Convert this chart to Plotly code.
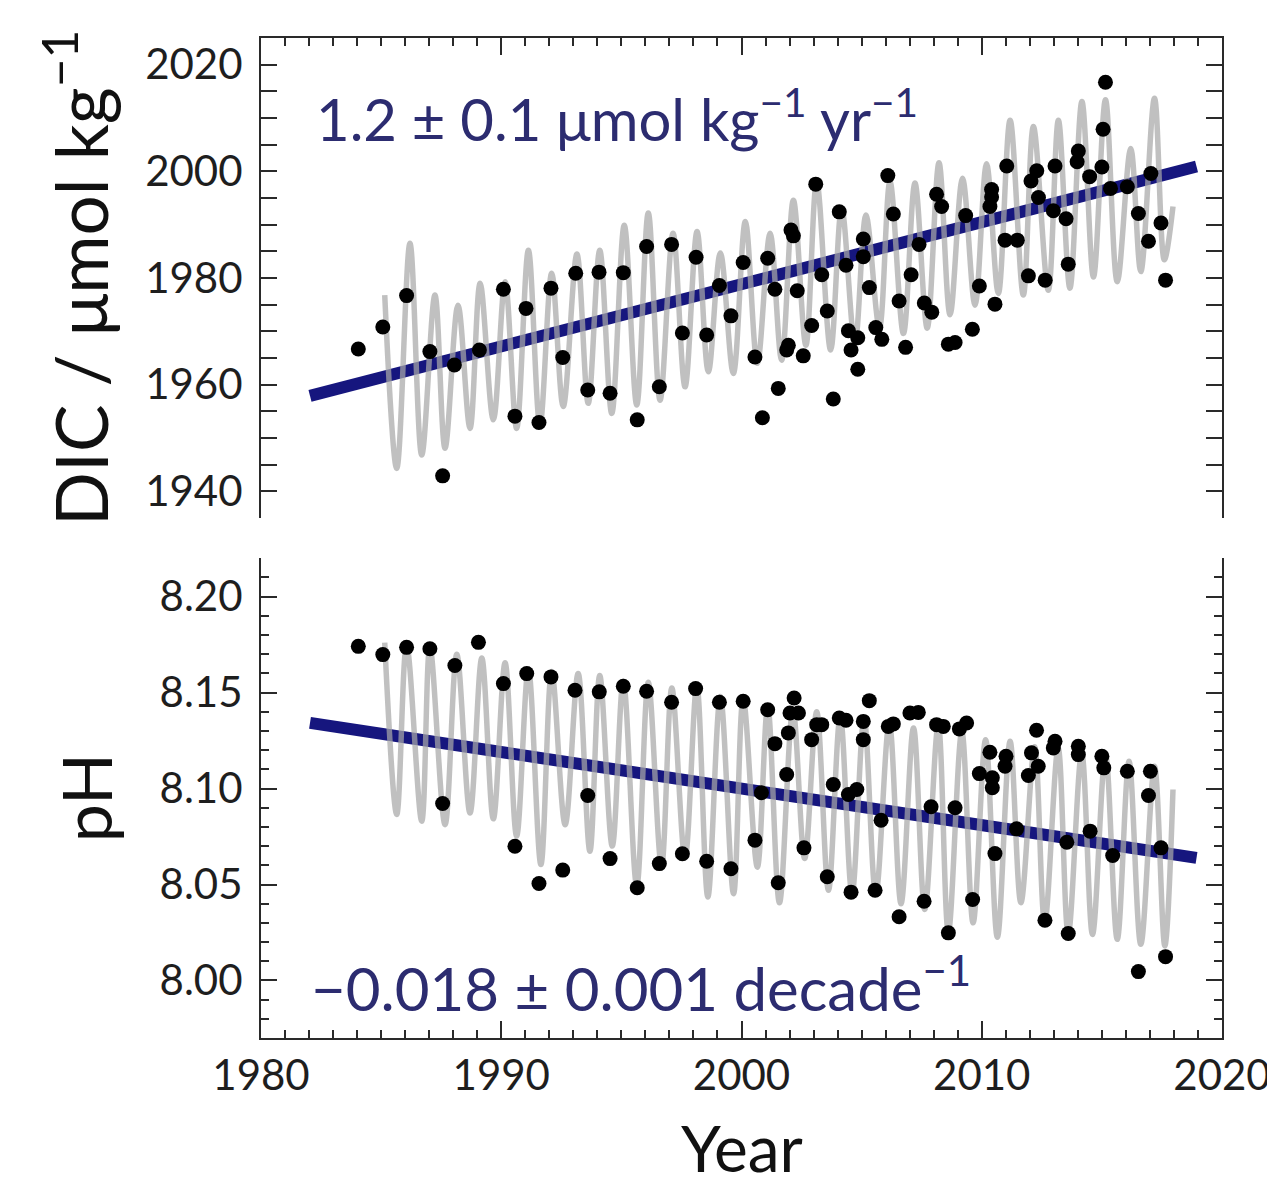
import plotly.graph_objects as go
from plotly.subplots import make_subplots

# ---------------- DIC panel data ----------------
dic_year = [1984.05, 1985.07, 1986.06, 1987.03, 1987.56, 1988.05, 1989.09, 1990.09, 1990.57, 1991.03,
            1991.57, 1992.07, 1992.56, 1993.10, 1993.60, 1994.07, 1994.53, 1995.08, 1995.66, 1996.05,
            1996.58, 1997.09, 1997.54, 1998.11, 1998.55, 1999.08, 1999.56, 2000.07, 2000.56, 2000.87,
            2001.09, 2001.39, 2001.53, 2001.88, 2001.95, 2002.06, 2002.16, 2002.32, 2002.57, 2002.92,
            2003.09, 2003.34, 2003.57, 2003.82, 2004.07, 2004.35, 2004.45, 2004.56, 2004.84, 2004.84,
            2005.07, 2005.07, 2005.32, 2005.59, 2005.84, 2006.09, 2006.32, 2006.56, 2006.83, 2007.06,
            2007.39, 2007.61, 2007.92, 2008.12, 2008.33, 2008.61, 2008.89, 2009.33, 2009.61, 2009.90,
            2010.34, 2010.41, 2010.41, 2010.55, 2010.97, 2011.04, 2011.48, 2011.94, 2012.05, 2012.29,
            2012.36, 2012.64, 2012.98, 2013.05, 2013.51, 2013.60, 2013.97, 2014.02, 2014.49, 2015.00,
            2015.05, 2015.15, 2015.36, 2016.06, 2016.52, 2016.94, 2017.04, 2017.46, 2017.65]
dic_value = [1966.7, 1970.8, 1976.7, 1966.2, 1942.9, 1963.7, 1966.5, 1977.9, 1954.1, 1974.3,
             1952.9, 1978.1, 1965.1, 1980.9, 1959.0, 1981.1, 1958.4, 1981.0, 1953.4, 1985.9,
             1959.6, 1986.3, 1969.7, 1983.9, 1969.3, 1978.6, 1972.9, 1982.9, 1965.2, 1953.8,
             1983.7, 1977.9, 1959.3, 1966.5, 1967.4, 1989.0, 1987.9, 1977.6, 1965.4, 1971.1,
             1997.6, 1980.6, 1973.8, 1957.3, 1992.4, 1982.4, 1970.1, 1966.5, 1968.8, 1962.9,
             1987.3, 1984.0, 1978.2, 1970.7, 1968.5, 1999.2, 1992.0, 1975.7, 1967.0, 1980.6,
             1986.3, 1975.3, 1973.6, 1995.7, 1993.4, 1967.6, 1967.9, 1991.7, 1970.4, 1978.5,
             1993.4, 1995.2, 1996.6, 1975.1, 1987.1, 2001.0, 1987.1, 1980.4, 1998.2, 2000.1,
             1995.1, 1979.6, 1992.6, 2001.0, 1991.1, 1982.6, 2001.8, 2003.8, 1999.0, 2000.8,
             2007.9, 2016.7, 1996.8, 1997.1, 1992.1, 1986.9, 1999.6, 1990.3, 1979.6]

# seasonal fit: extremes (peaks / troughs)
dic_fit_year = [1985.15, 1985.65, 1986.20, 1986.69, 1987.24, 1987.66, 1988.20, 1988.70, 1989.12, 1989.67,
                1990.16, 1990.64, 1991.13, 1991.61, 1992.10, 1992.58, 1993.15, 1993.62, 1994.10, 1994.60,
                1995.12, 1995.64, 1996.12, 1996.61, 1997.15, 1997.65, 1998.15, 1998.62, 1999.12, 1999.66,
                2000.16, 2000.66, 2001.19, 2001.67, 2002.16, 2002.68, 2003.13, 2003.71, 2004.17, 2004.72,
                2005.18, 2005.74, 2006.18, 2006.74, 2007.22, 2007.73, 2008.22, 2008.68, 2009.20, 2009.72,
                2010.20, 2010.69, 2011.18, 2011.73, 2012.15, 2012.77, 2013.19, 2013.67, 2014.17, 2014.65,
                2015.15, 2015.64, 2016.20, 2016.62, 2017.19, 2017.60, 2017.96]
dic_fit_value = [1976.8, 1944.3, 1986.5, 1946.8, 1976.8, 1948.1, 1974.9, 1951.8, 1979.0, 1953.4,
                 1979.3, 1951.8, 1985.2, 1952.4, 1980.9, 1955.9, 1984.5, 1956.5, 1985.2, 1954.6,
                 1989.9, 1956.2, 1992.2, 1957.1, 1988.4, 1959.6, 1988.7, 1962.4, 1984.7, 1962.1,
                 1990.6, 1964.0, 1988.4, 1964.6, 1994.6, 1967.4, 1998.1, 1966.5, 1993.1, 1967.8,
                 1991.8, 1970.6, 1998.1, 1969.6, 1997.8, 1970.6, 2001.6, 1973.1, 1998.7, 1974.9,
                 2001.4, 1977.1, 2009.6, 1976.8, 2008.4, 1977.7, 2009.6, 1978.1, 2013.1, 1980.2,
                 2013.4, 1979.3, 2004.3, 1981.2, 2013.7, 1983.4, 1993.4]

dic_trend_year = [1982.04, 2018.94]
dic_trend_value = [1957.9, 2000.9]

# ---------------- pH panel data ----------------
ph_year = [1984.05, 1985.07, 1986.06, 1987.03, 1987.56, 1988.07, 1989.05, 1990.09, 1990.57, 1991.06,
           1991.57, 1992.07, 1992.56, 1993.07, 1993.60, 1994.08, 1994.53, 1995.08, 1995.66, 1996.05,
           1996.58, 1997.09, 1997.54, 1998.09, 1998.55, 1999.08, 1999.56, 2000.07, 2000.56, 2000.83,
           2001.09, 2001.39, 2001.53, 2001.88, 2001.95, 2002.02, 2002.19, 2002.37, 2002.60, 2002.92,
           2003.13, 2003.34, 2003.57, 2003.82, 2004.07, 2004.35, 2004.45, 2004.56, 2004.80, 2005.07,
           2005.07, 2005.32, 2005.56, 2005.81, 2006.11, 2006.32, 2006.56, 2007.01, 2007.36, 2007.60,
           2007.89, 2008.12, 2008.40, 2008.61, 2008.89, 2009.07, 2009.37, 2009.62, 2009.90, 2010.34,
           2010.44, 2010.44, 2010.55, 2011.01, 2010.97, 2011.45, 2011.94, 2012.07, 2012.35, 2012.28,
           2012.63, 2012.98, 2013.05, 2013.54, 2013.60, 2014.02, 2014.02, 2014.51, 2015.00, 2015.08,
           2015.45, 2016.06, 2016.52, 2016.94, 2017.02, 2017.46, 2017.65]
ph_value = [8.1741, 8.1698, 8.1736, 8.1729, 8.0922, 8.1641, 8.1762, 8.1547, 8.0699, 8.1599,
            8.0505, 8.1582, 8.0575, 8.1512, 8.0964, 8.1504, 8.0635, 8.1533, 8.0483, 8.1507,
            8.0609, 8.1450, 8.0660, 8.1521, 8.0621, 8.1450, 8.0582, 8.1455, 8.0731, 8.0978,
            8.1411, 8.1234, 8.0509, 8.1073, 8.1290, 8.1394, 8.1472, 8.1394, 8.0691, 8.1255,
            8.1333, 8.1333, 8.0540, 8.1021, 8.1368, 8.1356, 8.0969, 8.0460, 8.0995, 8.1350,
            8.1255, 8.1458, 8.0470, 8.0835, 8.1324, 8.1337, 8.0332, 8.1394, 8.1397, 8.0413,
            8.0905, 8.1333, 8.1324, 8.0248, 8.0900, 8.1311, 8.1342, 8.0422, 8.1078, 8.1189,
            8.1056, 8.1004, 8.0661, 8.1168, 8.1116, 8.0790, 8.1068, 8.1186, 8.1116, 8.1304,
            8.0314, 8.1212, 8.1246, 8.0720, 8.0245, 8.1220, 8.1177, 8.0778, 8.1168, 8.1108,
            8.0651, 8.1090, 8.0046, 8.0964, 8.1090, 8.0691, 8.0124]

ph_fit_year = [1985.15, 1985.65, 1986.06, 1986.69, 1987.03, 1987.66, 1988.15, 1988.70, 1989.19, 1989.67,
               1990.16, 1990.64, 1991.13, 1991.65, 1992.10, 1992.66, 1993.20, 1993.69, 1994.10, 1994.62,
               1995.08, 1995.64, 1996.12, 1996.67, 1997.10, 1997.65, 1998.14, 1998.60, 1999.12, 1999.67,
               2000.07, 2000.66, 2001.09, 2001.58, 2002.14, 2002.63, 2003.13, 2003.62, 2004.11, 2004.60,
               2005.10, 2005.59, 2006.15, 2006.64, 2007.16, 2007.63, 2008.19, 2008.61, 2009.17, 2009.64,
               2010.16, 2010.65, 2011.18, 2011.63, 2012.20, 2012.62, 2013.18, 2013.60, 2014.16, 2014.61,
               2015.15, 2015.64, 2016.13, 2016.62, 2017.19, 2017.62, 2017.96]
ph_fit_value = [8.176, 8.0865, 8.175, 8.083, 8.174, 8.0812, 8.170, 8.0873, 8.168, 8.0842,
                8.1655, 8.0752, 8.1623, 8.0604, 8.161, 8.0812, 8.160, 8.0673, 8.1589, 8.070,
                8.1559, 8.0491, 8.1554, 8.0595, 8.1524, 8.0639, 8.1536, 8.0435, 8.148, 8.0452,
                8.147, 8.059, 8.1429, 8.0405, 8.1411, 8.0635, 8.1400, 8.047, 8.1377, 8.045,
                8.1368, 8.0448, 8.1342, 8.040, 8.1316, 8.037, 8.1335, 8.025, 8.1298, 8.030,
                8.1255, 8.0225, 8.1246, 8.0405, 8.1218, 8.030, 8.1212, 8.024, 8.1186, 8.024,
                8.1177, 8.0214, 8.1142, 8.0188, 8.1116, 8.018, 8.0995]

ph_trend_year = [1982.04, 2018.94]
ph_trend_value = [8.1342, 8.0639]

x_tick_vals = [1980, 1990, 2000, 2010, 2020]
dic_tick_vals = [1940, 1960, 1980, 2000, 2020]
ph_tick_vals = [8.00, 8.05, 8.10, 8.15, 8.20]

# ---------------- figure ----------------
NAVY = "#16167e"
TXT = "#2c2c70"
FIT = "rgba(168,168,168,0.72)"
FONT = "Lato, 'Liberation Sans', sans-serif"

fig = make_subplots(rows=2, cols=1, shared_xaxes=False, vertical_spacing=0.0)

for row, (ty, tv, fy, fv, py, pv) in enumerate([
        (dic_trend_year, dic_trend_value, dic_fit_year, dic_fit_value, dic_year, dic_value),
        (ph_trend_year, ph_trend_value, ph_fit_year, ph_fit_value, ph_year, ph_value)], start=1):
    fig.add_trace(go.Scatter(x=ty, y=tv, mode="lines",
                             line=dict(color=NAVY, width=12), showlegend=False), row=row, col=1)
    fig.add_trace(go.Scatter(x=fy, y=fv, mode="lines",
                             line=dict(color=FIT, width=5.5, shape="spline", smoothing=1.0),
                             showlegend=False), row=row, col=1)
    fig.add_trace(go.Scatter(x=py, y=pv, mode="markers",
                             marker=dict(color="black", size=15), showlegend=False), row=row, col=1)

axis_common = dict(showline=True, linecolor="#2a2a2a", linewidth=2, ticks="inside",
                   tickcolor="#2a2a2a", tickwidth=2, showgrid=False, zeroline=False,
                   automargin=False,
                   tickfont=dict(family=FONT, size=42, color="#1e1e1e"))

fig.update_xaxes(range=[1980, 2020], tickvals=x_tick_vals, ticklen=17, ticklabeloverflow="allow",
                 minor=dict(dtick=1, tick0=1980, ticklen=8, ticks="inside", tickcolor="#2a2a2a",
                            tickwidth=2, showgrid=False),
                 **axis_common)
fig.update_xaxes(side="top", showticklabels=False, row=1, col=1)
fig.update_xaxes(side="bottom", showticklabels=True, ticklabelstandoff=0, row=2, col=1)

fig.update_yaxes(**axis_common)
fig.update_yaxes(range=[1935, 2025], tickvals=dic_tick_vals, ticklen=16, mirror="ticks",
                 ticklabelstandoff=8,
                 minor=dict(dtick=5, tick0=1935, ticklen=16, ticks="inside", tickcolor="#2a2a2a",
                            tickwidth=2, showgrid=False),
                 domain=[0.52, 1.0], row=1, col=1)
fig.update_yaxes(range=[7.97, 8.22], tickvals=ph_tick_vals, tickformat=".2f", ticklen=16,
                 mirror="ticks", ticklabelstandoff=8,
                 minor=dict(dtick=0.01, tick0=7.97, ticklen=8, ticks="inside", tickcolor="#2a2a2a",
                            tickwidth=2, showgrid=False),
                 domain=[0.0, 0.4797], row=2, col=1)

annotations = [
    dict(text="1.2 ± 0.1 μmol kg<sup>−1</sup> yr<sup>−1</sup>", x=1982.2, y=2010.5,
         xref="x", yref="y", xanchor="left", yanchor="middle", showarrow=False,
         font=dict(family=FONT, size=58, color=TXT)),
    dict(text="−0.018 ± 0.001 decade<sup>−1</sup>", x=1982.0, y=7.998,
         xref="x2", yref="y2", xanchor="left", yanchor="middle", showarrow=False,
         font=dict(family=FONT, size=60, color=TXT)),
    dict(text="DIC / μmol kg<sup>−1</sup>", x=(76 - 261) / 961, y=0.76, xref="paper", yref="paper",
         xanchor="center", yanchor="middle", textangle=-90, showarrow=False,
         font=dict(family=FONT, size=71, color="#111111")),
    dict(text="pH", x=(85 - 261) / 961, y=0.2398, xref="paper", yref="paper",
         xanchor="center", yanchor="middle", textangle=-90, showarrow=False,
         font=dict(family=FONT, size=68, color="#111111")),
    dict(text="Year", x=0.5, y=-0.109, xref="paper", yref="paper",
         xanchor="center", yanchor="middle", showarrow=False,
         font=dict(family=FONT, size=64, color="#111111")),
]

fig.update_layout(width=1267, height=1185, margin=dict(l=261, r=45, t=38, b=147, autoexpand=False),
                  plot_bgcolor="white", paper_bgcolor="white", annotations=annotations)

fig.write_html("out.html")
